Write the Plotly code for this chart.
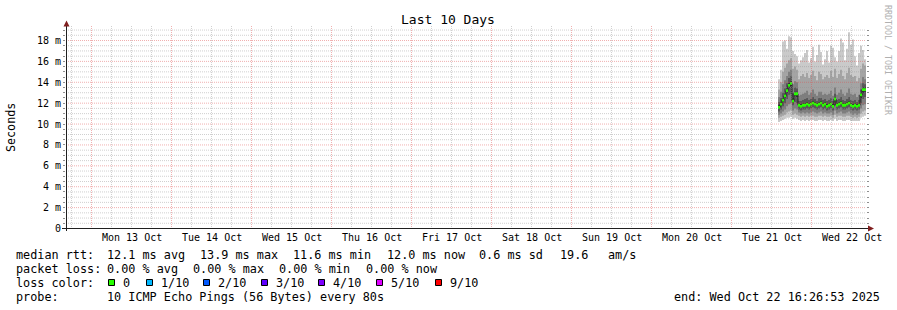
import plotly.graph_objects as go
import pandas as pd

# ---------------- data ----------------
TITLE = "Last 10 Days"
Y_TITLE = "Seconds"
WATERMARK = "RRDTOOL / TOBI OETIKER"
END_TEXT = "end: Wed Oct 22 16:26:53 2025"

RANGE_START = pd.Timestamp("2025-10-12 16:21:00")
RANGE_END = pd.Timestamp("2025-10-22 16:21:00")
SERIES_START = pd.Timestamp("2025-10-21 13:57:00")
STEP = pd.Timedelta(minutes=36)

median_ms = [11.6, 11.9, 12.3, 12.7, 13.2, 13.7, 13.9, 12.2, 12.9, 12.9,
             11.8, 11.7, 11.8, 11.8, 11.9, 11.8, 11.9, 12.0, 11.9, 11.8,
             11.9, 12.0, 11.8, 11.9, 11.7, 11.8, 11.9, 11.7, 12.4, 11.8,
             11.9, 12.0, 11.8, 11.8, 11.9, 12.0, 11.8, 11.7, 11.8, 11.7,
             11.8, 12.8, 13.3, 13.3]

# sorted pings per interval (ping_01 = fastest, ping_10 = slowest), ms
ping_01 = [10.2, 10.3, 10.4, 10.5, 10.6, 10.6, 10.7, 10.5, 10.6, 10.5,
           10.4, 10.3, 10.4, 10.3, 10.4, 10.3, 10.4, 10.4, 10.3, 10.3,
           10.4, 10.4, 10.3, 10.4, 10.3, 10.3, 10.4, 10.3, 10.5, 10.3,
           10.4, 10.4, 10.3, 10.3, 10.4, 10.4, 10.3, 10.3, 10.3, 10.3,
           10.3, 10.6, 10.7, 10.8]
ping_02 = [10.6, 10.7, 10.8, 10.9, 11.1, 11.2, 11.3, 10.9, 11.0, 10.9,
           10.8, 10.7, 10.8, 10.7, 10.8, 10.7, 10.8, 10.8, 10.7, 10.7,
           10.8, 10.8, 10.7, 10.8, 10.7, 10.7, 10.8, 10.6, 10.9, 10.7,
           10.8, 10.8, 10.7, 10.7, 10.8, 10.8, 10.7, 10.6, 10.7, 10.6,
           10.7, 11.0, 11.2, 11.3]
ping_03 = [10.9, 11.0, 11.2, 11.4, 11.7, 11.9, 12.0, 11.3, 11.5, 11.4,
           11.1, 11.0, 11.1, 11.0, 11.1, 11.0, 11.1, 11.2, 11.1, 11.0,
           11.1, 11.2, 11.0, 11.1, 11.0, 11.0, 11.1, 10.9, 11.3, 11.0,
           11.1, 11.2, 11.0, 11.0, 11.1, 11.2, 11.0, 10.9, 11.0, 10.9,
           11.0, 11.5, 11.8, 11.9]
ping_04 = [11.2, 11.4, 11.7, 12.0, 12.4, 12.8, 12.9, 11.8, 12.1, 12.0,
           11.4, 11.3, 11.4, 11.4, 11.5, 11.4, 11.5, 11.6, 11.5, 11.4,
           11.5, 11.6, 11.4, 11.5, 11.3, 11.4, 11.5, 11.3, 11.8, 11.4,
           11.5, 11.6, 11.4, 11.4, 11.5, 11.6, 11.4, 11.3, 11.4, 11.3,
           11.4, 12.0, 12.4, 12.6]
ping_05 = [11.5, 11.7, 12.1, 12.5, 13.0, 13.5, 13.6, 12.0, 12.7, 12.6,
           11.7, 11.6, 11.7, 11.7, 11.8, 11.7, 11.8, 11.9, 11.8, 11.7,
           11.8, 11.9, 11.7, 11.8, 11.6, 11.7, 11.8, 11.6, 12.2, 11.7,
           11.8, 11.9, 11.7, 11.7, 11.8, 11.9, 11.7, 11.6, 11.7, 11.6,
           11.7, 12.5, 13.0, 13.1]
ping_06 = [11.8, 12.1, 12.5, 12.9, 13.4, 13.9, 14.1, 12.5, 13.1, 13.1,
           12.0, 11.9, 12.0, 12.0, 12.1, 12.0, 12.1, 12.2, 12.1, 12.0,
           12.1, 12.2, 12.0, 12.1, 11.9, 12.0, 12.1, 11.9, 12.6, 12.0,
           12.1, 12.2, 12.0, 12.0, 12.1, 12.2, 12.0, 11.9, 12.0, 11.9,
           12.0, 12.9, 13.5, 13.5]
ping_07 = [12.1, 12.5, 13.0, 13.4, 13.9, 14.4, 14.6, 13.0, 13.5, 13.4,
           12.2, 12.2, 12.3, 12.4, 12.5, 12.3, 12.4, 12.6, 12.4, 12.2,
           12.5, 12.5, 12.3, 12.4, 12.2, 12.3, 12.5, 12.2, 12.9, 12.3,
           12.4, 12.6, 12.3, 12.2, 12.4, 12.6, 12.3, 12.2, 12.3, 12.1,
           12.3, 13.3, 13.9, 13.8]
ping_08 = [12.6, 13.1, 13.8, 14.2, 14.6, 15.0, 15.2, 13.8, 14.1, 14.0,
           12.7, 12.8, 12.9, 13.0, 13.2, 12.8, 13.0, 13.3, 12.9, 12.7,
           13.1, 13.1, 12.8, 12.9, 12.8, 12.9, 13.2, 12.7, 13.5, 12.8,
           13.0, 13.3, 12.9, 12.7, 13.0, 13.4, 12.9, 12.8, 12.9, 12.6,
           12.8, 13.9, 14.5, 14.3]
ping_09 = [13.3, 14.0, 15.0, 15.4, 15.8, 16.1, 16.3, 15.3, 15.5, 15.2,
           14.3, 14.6, 14.8, 14.5, 14.9, 14.4, 14.7, 15.1, 14.6, 14.2,
           15.0, 14.8, 14.3, 14.5, 14.7, 14.4, 15.1, 14.5, 15.3, 14.4,
           14.8, 15.2, 14.6, 14.3, 14.9, 15.4, 14.7, 14.5, 14.6, 14.1,
           14.4, 15.3, 15.8, 15.6]
ping_10 = [14.3, 15.2, 17.9, 18.0, 17.2, 18.4, 18.3, 17.0, 16.7, 16.5,
           15.8, 16.1, 16.4, 16.8, 17.1, 15.9, 16.3, 17.4, 16.0, 16.6,
           17.6, 16.9, 15.7, 16.2, 17.0, 15.9, 17.5, 17.3, 16.4, 16.0,
           17.0, 18.2, 17.8, 16.1, 17.2, 18.8, 17.6, 18.1, 16.5, 15.6,
           16.8, 17.5, 17.1, 16.2]

SMOKE_COLORS = ["#cacaca", "#a4a4a4", "#7e7e7e", "#585858", "#323232"]
MEDIAN_COLOR = "#26ff00"

Y_TICKS = [0, 2, 4, 6, 8, 10, 12, 14, 16, 18]
Y_TICK_LABELS = ["0", "2 m", "4 m", "6 m", "8 m", "10 m", "12 m", "14 m", "16 m", "18 m"]

LEGEND_ROW1 = [("median rtt:", 16), ("12.1 ms avg", 107), ("13.9 ms max", 200),
               ("11.6 ms min", 293), ("12.0 ms now", 387), ("0.6 ms sd", 479),
               ("19.6", 560), ("am/s", 608)]
LEGEND_ROW2 = [("packet loss:", 16), ("0.00 % avg", 107), ("0.00 % max", 193),
               ("0.00 % min", 279), ("0.00 % now", 366)]
LOSS_LABELS = ["0", "1/10", "2/10", "3/10", "4/10", "5/10", "9/10"]
LOSS_COLORS = ["#26ff00", "#00b8ff", "#0059ff", "#5e00ff", "#7e00ff", "#dd00ff", "#ff0000"]
LOSS_SWATCH_X = [108, 146, 203, 261, 318, 376, 435]
PROBE_TEXT = "10 ICMP Echo Pings (56 Bytes) every 80s"

# ---------------- geometry ----------------
W, H = 897, 310
L, R, T, B = 66, 31, 26, 81
PW, PH = W - L - R, H - T - B
PLOT_BOTTOM = H - B
PX_PER_MS = 188 / 18.0
Y0 = -0.5 / PX_PER_MS
Y1 = Y0 + PH / PX_PER_MS


def px(x):
    return (x - L) / PW


def py(y):
    return (PLOT_BOTTOM - y) / PH


FONT = "DejaVu Sans Mono"
GRID_MINOR = "rgba(143,143,143,0.42)"
GRID_MAJOR = "rgba(222,79,79,0.45)"
AXIS_COL = "#1f1f1f"
ARROW_COL = "#801f1f"

times = pd.date_range(SERIES_START, periods=len(median_ms) + 1, freq=STEP)


def stepped(v):
    return list(v) + [v[-1]]


fig = go.Figure()
pings = [ping_01, ping_02, ping_03, ping_04, ping_05,
         ping_06, ping_07, ping_08, ping_09, ping_10]
for k in range(5):
    fig.add_trace(go.Scatter(x=times, y=stepped(pings[k]), mode="lines",
                             line=dict(width=0, shape="hv"), hoverinfo="skip"))
    fig.add_trace(go.Scatter(x=times, y=stepped(pings[9 - k]), mode="lines",
                             line=dict(width=0, shape="hv"), fill="tonexty",
                             fillcolor=SMOKE_COLORS[k], hoverinfo="skip"))

fig.add_trace(go.Scatter(x=times, y=stepped(median_ms), mode="lines",
                         line=dict(width=1, color="#202020", shape="hv"), hoverinfo="skip"))
HALF = 1.4 / PX_PER_MS
fig.add_trace(go.Scatter(x=times, y=stepped([m - HALF for m in median_ms]), mode="lines",
                         line=dict(width=0, shape="hv"), hoverinfo="skip"))
fig.add_trace(go.Scatter(x=times, y=stepped([m + HALF for m in median_ms]), mode="lines",
                         line=dict(width=0, shape="hv"), fill="tonexty",
                         fillcolor=MEDIAN_COLOR, hoverinfo="skip"))

shapes = []
# vertical grid
six = pd.date_range(RANGE_START.ceil("6h"), RANGE_END, freq="6h")
for t in six:
    major = (t.hour == 0)
    shapes.append(dict(type="line", xref="x", yref="paper", x0=t, x1=t, y0=0, y1=1,
                       line=dict(color=GRID_MAJOR if major else GRID_MINOR, width=1, dash="1px,1px"),
                       layer="above"))
# horizontal grid
v = 0.5
while v < Y1:
    major = abs(v / 2 - round(v / 2)) < 1e-9
    shapes.append(dict(type="line", xref="paper", yref="y", x0=0, x1=1, y0=v, y1=v,
                       line=dict(color=GRID_MAJOR if major else GRID_MINOR, width=1, dash="1px,1px"),
                       layer="above"))
    v += 0.5

# axes
shapes.append(dict(type="line", xref="paper", yref="paper", x0=px(62), x1=px(869),
                   y0=py(228.5), y1=py(228.5), line=dict(color=AXIS_COL, width=1), layer="above"))
shapes.append(dict(type="line", xref="paper", yref="paper", x0=px(66.5), x1=px(66.5),
                   y0=py(231), y1=py(25), line=dict(color=AXIS_COL, width=1), layer="above"))
# arrows
shapes.append(dict(type="path", xref="paper", yref="paper",
                   path=f"M {px(63.5)} {py(26.5)} L {px(69.5)} {py(26.5)} L {px(66.5)} {py(20.5)} Z",
                   fillcolor=ARROW_COL, line=dict(width=0), layer="above"))
shapes.append(dict(type="path", xref="paper", yref="paper",
                   path=f"M {px(868)} {py(225.5)} L {px(868)} {py(231.5)} L {px(874)} {py(228.5)} Z",
                   fillcolor=ARROW_COL, line=dict(width=0), layer="above"))
# loss colour swatches
for xs, col in zip(LOSS_SWATCH_X, LOSS_COLORS):
    shapes.append(dict(type="rect", xref="paper", yref="paper",
                       x0=px(xs + 0.5), x1=px(xs + 6.5), y0=py(279.5), y1=py(285.5),
                       fillcolor=col, line=dict(color="#000000", width=1)))

ann = []


def text(s, x, y, size, anchor="left", color="#000000", angle=0, yanchor="middle"):
    ann.append(dict(text=s, x=px(x), y=py(y), xref="paper", yref="paper",
                    xanchor=anchor, yanchor=yanchor, showarrow=False, textangle=angle,
                    borderpad=0, borderwidth=0,
                    font=dict(family=FONT, size=size, color=color)))


text(TITLE, 448, 19.5, 13, anchor="center")
text(Y_TITLE, 11, 127, 11.7, anchor="center", angle=-90)
text(WATERMARK, 888, 60, 8.3, anchor="center", color="#b0b0b0", angle=90)

for val, lab in zip(Y_TICKS, Y_TICK_LABELS):
    ann.append(dict(text=lab, x=px(61), y=val, xref="paper", yref="y", xanchor="right",
                    yanchor="middle", showarrow=False, borderpad=0, borderwidth=0,
                    font=dict(family=FONT, size=10, color="#000000")))

days = pd.date_range(RANGE_START.ceil("D"), RANGE_END, freq="D")
for d in days:
    noon = d + pd.Timedelta(hours=12)
    if noon < RANGE_END:
        ann.append(dict(text=noon.strftime("%a %d %b"), x=noon, y=py(237.5), xref="x", yref="paper",
                        xanchor="center", yanchor="middle", showarrow=False, borderpad=0,
                        borderwidth=0, font=dict(family=FONT, size=10, color="#000000")))

LEG = 11.8
for s, x in LEGEND_ROW1:
    text(s, x, 254.5, LEG)
for s, x in LEGEND_ROW2:
    text(s, x, 268.5, LEG)
text("loss color:", 16, 282.5, LEG)
for xs, lab in zip(LOSS_SWATCH_X, LOSS_LABELS):
    text(lab, xs + 15, 282.5, LEG)
text("probe:", 16, 296.5, LEG)
text(PROBE_TEXT, 107, 296.5, LEG)
text(END_TEXT, 880, 296.5, LEG, anchor="right")

fig.update_layout(
    width=W, height=H, autosize=False,
    margin=dict(l=L, r=R, t=T, b=B, pad=0),
    paper_bgcolor="#ffffff", plot_bgcolor="#ffffff",
    showlegend=False, hovermode=False,
    shapes=shapes, annotations=ann,
    xaxis=dict(type="date", range=[RANGE_START, RANGE_END], showgrid=False, zeroline=False,
               showline=False, showticklabels=False, ticks=""),
    yaxis=dict(range=[Y0, Y1], showgrid=False, zeroline=False, showline=False,
               showticklabels=False, tickvals=Y_TICKS, ticks="outside", ticklen=2,
               tickcolor="#8f8f8f", mirror="ticks",
               minor=dict(ticks="outside", ticklen=2, dtick=0.5, tickcolor="#8f8f8f")),
)

fig.write_html("out.html")
